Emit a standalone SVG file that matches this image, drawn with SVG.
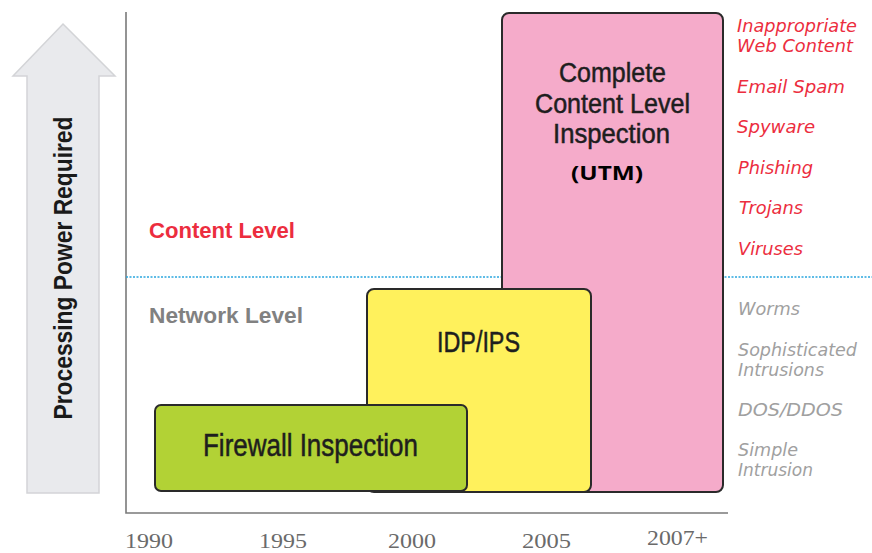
<svg xmlns="http://www.w3.org/2000/svg" width="872" height="553" viewBox="0 0 872 553">
  <style>
    .box { stroke: #2a2a2a; stroke-width: 2; }
    .boxlabel { font-family: "Liberation Sans Narrow", "Liberation Sans", Arial, sans-serif; fill: #1e1e1e; stroke: #1e1e1e; stroke-width: 0.5; text-anchor: middle; }
    .level { font-family: "Liberation Sans", Arial, sans-serif; font-weight: bold; font-size: 22px; }
    .threat { font-family: "DejaVu Sans", "Liberation Sans", sans-serif; font-style: italic; font-size: 17px; }
    .red { fill: #ec2d3e; }
    .grey { fill: #a0a0a0; }
    .year { font-family: "Liberation Serif", "Times New Roman", serif; font-size: 21px; fill: #6a6a6a; }
    .axis { stroke: #7a7a7a; stroke-width: 1.6; fill: none; }
  </style>

  <rect width="872" height="553" fill="#ffffff"/>

  <!-- vertical "processing power" arrow -->
  <g id="power-arrow">
    <polygon points="63,24 115,76 99,76 99,493 27,493 27,76 13,76" fill="#e9eaed" stroke="#d3d4d7" stroke-width="1.5"/>
    <text transform="translate(72,268) rotate(-90)" text-anchor="middle" font-family="Liberation Sans, Arial, sans-serif" font-weight="bold" font-size="25" fill="#1a1a1a" textLength="303" lengthAdjust="spacingAndGlyphs">Processing Power Required</text>
  </g>

  <!-- axes and level divider -->
  <g id="connectors">
    <polyline class="axis" points="126,12 126,513 728,513"/>
    <line x1="126" y1="277" x2="872" y2="277" stroke="#2aa6de" stroke-width="1.5" stroke-dasharray="2 1.5"/>
  </g>

  <!-- level captions -->
  <g id="content-level">
    <text class="level red" x="149" y="238" textLength="146" lengthAdjust="spacingAndGlyphs">Content Level</text>
  </g>
  <g id="network-level">
    <text class="level" x="149" y="323" fill="#818181" textLength="154" lengthAdjust="spacingAndGlyphs">Network Level</text>
  </g>

  <!-- inspection technology boxes -->
  <g id="utm">
    <rect class="box" x="502" y="13" width="221" height="479" rx="7" fill="#f5abca"/>
    <text class="boxlabel" x="612.5" y="82" font-size="27" textLength="107" lengthAdjust="spacingAndGlyphs">Complete</text>
    <text class="boxlabel" x="612.5" y="113" font-size="27" textLength="155" lengthAdjust="spacingAndGlyphs">Content Level</text>
    <text class="boxlabel" x="611.5" y="143" font-size="27" textLength="117" lengthAdjust="spacingAndGlyphs">Inspection</text>
    <text x="607" y="180" text-anchor="middle" font-family="Open Sans, Liberation Sans, sans-serif" font-weight="bold" font-size="20" fill="#000000" textLength="72" lengthAdjust="spacingAndGlyphs">(UTM)</text>
  </g>

  <g id="idp-ips">
    <rect class="box" x="367" y="289" width="224" height="203" rx="7" fill="#fff15c"/>
    <text class="boxlabel" x="478.5" y="352" font-size="30" textLength="83" lengthAdjust="spacingAndGlyphs">IDP/IPS</text>
  </g>

  <g id="firewall">
    <rect class="box" x="155" y="405" width="312" height="86" rx="6" fill="#b2d235"/>
    <text class="boxlabel" x="310.5" y="456" font-size="31" textLength="215" lengthAdjust="spacingAndGlyphs">Firewall Inspection</text>
  </g>

  <!-- content-level threats -->
  <g id="content-threats" class="threat red">
    <text x="737" y="32" textLength="120" lengthAdjust="spacingAndGlyphs">Inappropriate</text>
    <text x="737" y="52" textLength="116" lengthAdjust="spacingAndGlyphs">Web Content</text>
    <text x="737" y="93" textLength="108" lengthAdjust="spacingAndGlyphs">Email Spam</text>
    <text x="737" y="133" textLength="78" lengthAdjust="spacingAndGlyphs">Spyware</text>
    <text x="738" y="174" textLength="75" lengthAdjust="spacingAndGlyphs">Phishing</text>
    <text x="739" y="214" textLength="64" lengthAdjust="spacingAndGlyphs">Trojans</text>
    <text x="738" y="255" textLength="65" lengthAdjust="spacingAndGlyphs">Viruses</text>
  </g>

  <!-- network-level threats -->
  <g id="network-threats" class="threat grey">
    <text x="738" y="315" textLength="62" lengthAdjust="spacingAndGlyphs">Worms</text>
    <text x="738" y="356" textLength="119" lengthAdjust="spacingAndGlyphs">Sophisticated</text>
    <text x="738" y="376" textLength="86" lengthAdjust="spacingAndGlyphs">Intrusions</text>
    <text x="738" y="416" textLength="105" lengthAdjust="spacingAndGlyphs">DOS/DDOS</text>
    <text x="738" y="456" textLength="60" lengthAdjust="spacingAndGlyphs">Simple</text>
    <text x="738" y="476" textLength="75" lengthAdjust="spacingAndGlyphs">Intrusion</text>
  </g>

  <!-- timeline -->
  <g id="years" class="year">
    <text x="125" y="548" textLength="48" lengthAdjust="spacingAndGlyphs">1990</text>
    <text x="259" y="548" textLength="48" lengthAdjust="spacingAndGlyphs">1995</text>
    <text x="388" y="548" textLength="48" lengthAdjust="spacingAndGlyphs">2000</text>
    <text x="522" y="548" textLength="49" lengthAdjust="spacingAndGlyphs">2005</text>
    <text x="647" y="545" textLength="61" lengthAdjust="spacingAndGlyphs">2007+</text>
  </g>
</svg>
